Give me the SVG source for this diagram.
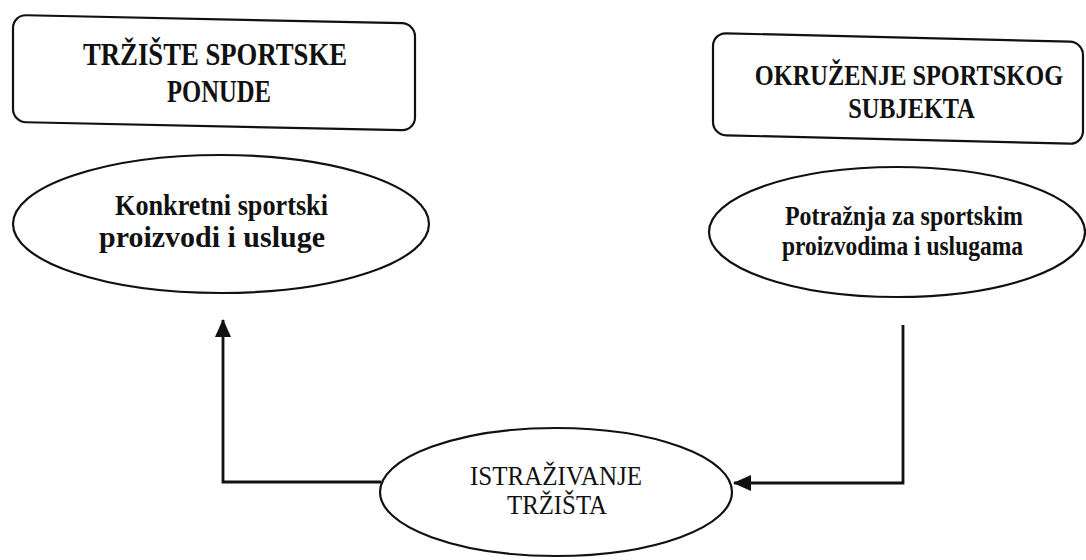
<svg xmlns="http://www.w3.org/2000/svg" width="1086" height="560" viewBox="0 0 1086 560">
<style>
.box{fill:#fff;stroke:#111;stroke-width:2.2}
.ell{fill:#fff;stroke:#111;stroke-width:2.2}
.tb{font-family:"Liberation Serif","Times New Roman",serif;font-weight:bold;font-size:31px;fill:#111}
.tr{font-family:"Liberation Serif","Times New Roman",serif;font-weight:bold;font-size:29px;fill:#111;text-anchor:middle}
.te{font-family:"Liberation Serif","Times New Roman",serif;font-weight:bold;font-size:29px;fill:#111}
.tp{font-family:"Liberation Serif","Times New Roman",serif;font-weight:bold;font-size:28px;fill:#111}
.tn{font-family:"Liberation Serif","Times New Roman",serif;font-size:28px;fill:#111}
.con{fill:none;stroke:#111;stroke-width:2.8}
</style>
<defs>
<marker id="ah" viewBox="0 0 18 16" refX="17" refY="8" markerWidth="18" markerHeight="16" markerUnits="userSpaceOnUse" orient="auto">
<path d="M0,0 L18,8 L0,16 Z" fill="#111"/>
</marker>
</defs>
<rect width="1086" height="560" fill="#fff"/>
<g id="node-trziste">
<rect class="box" x="0" y="0" width="402" height="107" rx="13" transform="translate(13,15) skewY(1.2)"/>
<text class="tb" x="83" y="65" textLength="264" lengthAdjust="spacingAndGlyphs">TRŽIŠTE SPORTSKE</text>
<text class="tb" x="167" y="102" textLength="104" lengthAdjust="spacingAndGlyphs">PONUDE</text>
</g>
<g id="node-okruzenje">
<rect class="box" x="0" y="0" width="370" height="102" rx="13" transform="translate(713,33) skewY(1.4)"/>
<g transform="translate(909,0) scale(0.84,1)">
<text class="tr" x="0" y="85">OKRUŽENJE SPORTSKOG</text>
<text class="tr" x="3" y="118">SUBJEKTA</text>
</g>
</g>
<g id="node-konkretni">
<ellipse class="ell" cx="221" cy="224" rx="208" ry="69"/>
<text class="te" x="115" y="215" textLength="213" lengthAdjust="spacingAndGlyphs">Konkretni sportski</text>
<text class="te" x="99" y="247" textLength="226" lengthAdjust="spacingAndGlyphs">proizvodi i usluge</text>
</g>
<g id="node-potraznja">
<ellipse class="ell" cx="897" cy="232" rx="188" ry="65"/>
<text class="tp" x="785" y="225" textLength="238" lengthAdjust="spacingAndGlyphs">Potražnja za sportskim</text>
<text class="tp" x="782" y="255" textLength="241" lengthAdjust="spacingAndGlyphs">proizvodima i uslugama</text>
</g>
<g id="node-istrazivanje">
<ellipse class="ell" cx="556" cy="492" rx="176" ry="64"/>
<text class="tn" x="470" y="485" textLength="172" lengthAdjust="spacingAndGlyphs">ISTRAŽIVANJE</text>
<text class="tn" x="507" y="514" textLength="100" lengthAdjust="spacingAndGlyphs">TRŽIŠTA</text>
</g>
<g id="connectors">
<path class="con" d="M381,482 L223,482 L223,320" marker-end="url(#ah)"/>
<path class="con" d="M903,325 L903,483 L734,483" marker-end="url(#ah)"/>
</g>
</svg>
